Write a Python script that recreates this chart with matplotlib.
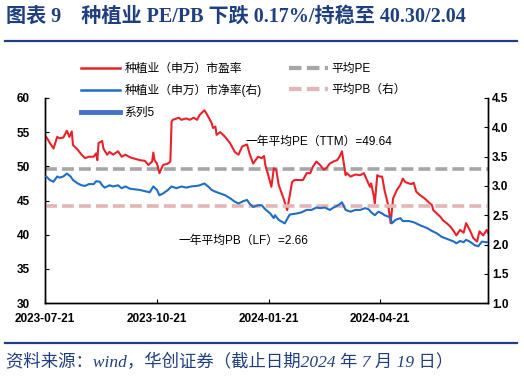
import matplotlib
matplotlib.use("Agg")
import matplotlib.pyplot as plt
import matplotlib.dates as mdates
from matplotlib.lines import Line2D
import pandas as pd

plt.rcParams['font.family'] = ['Liberation Sans', 'Noto Sans CJK SC', 'DejaVu Sans']

start = pd.Timestamp('2023-07-21')

# PE (TTM), days after 2023-07-21
pe_day = [1, 4, 7, 10, 12, 15, 18, 20, 22, 23, 27, 30, 33, 36, 40, 42, 43, 44, 47, 48,
          51, 53, 56, 60, 63, 66, 70, 78, 82, 85, 88, 89, 90, 92, 94, 97, 101, 103, 104, 105,
          110, 112, 116, 119, 122, 125, 127, 131, 134, 137, 138, 140, 141, 144, 148, 152, 156, 159, 162, 166,
          168, 171, 175, 178, 180, 181, 183, 186, 188, 190, 192, 196, 199, 203, 205, 212, 215, 218, 220, 223,
          226, 229, 231, 234, 237, 240, 242, 244, 247, 248, 251, 255, 259, 262, 264, 267, 268, 270, 271, 273,
          275, 277, 279, 282, 284, 286, 289, 292, 294, 296, 299, 301, 303, 305, 308, 312, 315, 318, 319, 322,
          325, 327, 330, 333, 336, 338, 341, 344, 346, 349, 352, 355, 357, 360, 363, 364]
pe_val = [54.3, 53.4, 52.6, 54.3, 54.1, 54.2, 55.2, 54.3, 55.1, 53.1, 52.4, 51.7, 51.2, 51.4, 51.4, 51.9, 50.9, 53.4, 53.7, 52.6,
          51.7, 52.1, 51.7, 52.2, 51.4, 51.7, 51.3, 50.9, 50.8, 50.2, 50.7, 52.0, 50.9, 50.4, 49.0, 50.2, 50.4, 50.7, 56.5, 56.8,
          57.1, 56.8, 57.0, 56.8, 57.1, 56.8, 57.5, 58.2, 57.3, 56.3, 55.6, 55.8, 54.6, 55.0, 54.3, 53.4, 52.1, 51.7, 52.9, 53.2,
          51.9, 50.4, 51.4, 51.2, 51.5, 50.2, 49.0, 47.0, 49.7, 49.5, 47.3, 45.3, 43.6, 47.7, 48.0, 48.0, 49.0, 49.0, 49.9, 50.7,
          50.2, 49.5, 49.7, 50.4, 50.7, 50.9, 51.4, 52.2, 48.7, 49.0, 48.5, 48.8, 48.7, 49.0, 48.2, 47.0, 47.5, 45.8, 44.6, 48.7,
          48.5, 48.5, 46.5, 44.3, 41.7, 45.3, 46.5, 47.3, 48.2, 47.7, 47.5, 47.4, 47.6, 46.3, 45.8, 45.3, 44.8, 44.3, 43.6, 43.1,
          42.6, 42.1, 41.7, 41.2, 40.5, 39.9, 40.7, 40.3, 41.7, 40.7, 39.5, 39.0, 40.5, 39.9, 40.7, 40.3]

# PB (LF), days after 2023-07-21
pb_day = [1, 4, 7, 10, 12, 15, 18, 21, 23, 27, 30, 33, 36, 40, 42, 45, 47, 49, 53, 56,
          60, 63, 66, 70, 78, 84, 86, 89, 92, 94, 97, 101, 104, 108, 112, 116, 120, 125, 127, 131,
          134, 137, 140, 144, 148, 152, 156, 159, 163, 166, 168, 171, 175, 178, 181, 185, 188, 189, 192, 197,
          201, 207, 211, 215, 219, 223, 226, 230, 234, 237, 241, 244, 247, 251, 255, 259, 263, 266, 268, 271,
          274, 277, 279, 284, 285, 288, 292, 294, 299, 303, 308, 314, 318, 322, 326, 331, 336, 338, 341, 344,
          346, 349, 353, 356, 359, 362, 364]
pb_val = [3.16, 3.10, 3.07, 3.16, 3.14, 3.16, 3.21, 3.16, 3.10, 3.04, 3.01, 3.00, 3.03, 3.03, 3.08, 3.07, 3.01, 2.97, 3.01, 2.99,
          3.01, 2.96, 2.99, 2.95, 2.93, 2.90, 2.89, 2.99, 2.93, 2.84, 2.87, 2.93, 2.99, 2.96, 2.99, 2.97, 2.99, 3.00, 3.01, 3.04,
          2.99, 2.93, 2.90, 2.87, 2.84, 2.79, 2.73, 2.70, 2.74, 2.76, 2.70, 2.64, 2.67, 2.67, 2.60, 2.53, 2.45, 2.50, 2.42, 2.36,
          2.51, 2.53, 2.55, 2.59, 2.59, 2.63, 2.62, 2.63, 2.59, 2.63, 2.67, 2.72, 2.59, 2.56, 2.59, 2.59, 2.62, 2.60, 2.55, 2.50,
          2.56, 2.53, 2.50, 2.46, 2.36, 2.42, 2.45, 2.40, 2.40, 2.38, 2.33, 2.28, 2.23, 2.19, 2.13, 2.09, 2.05, 2.02, 2.06, 2.04,
          2.08, 2.05, 1.99, 1.97, 2.05, 2.04, 2.04]

pe_avg = 49.64
pb_avg = 2.66
end_date = '2024-07-19'
xtick_dates = ['2023-07-21', '2023-10-21', '2024-01-21', '2024-04-21']

pe_dates = [start + pd.Timedelta(days=d) for d in pe_day]
pb_dates = [start + pd.Timedelta(days=d) for d in pb_day]

RED = '#E8222B'
BLUE = '#1F6EC4'
GREY = '#A6A6A6'
PINK = '#E3B5B4'
NAVY = '#1F3F7F'

fig = plt.figure(figsize=(5.24, 3.78), dpi=100)
ax = fig.add_axes([0.0859, 0.198, 0.8454, 0.543])
ax2 = ax.twinx()

ax.axhline(pe_avg, color=GREY, lw=2.6, dashes=(3.3, 1.4), zorder=1)
ax2.axhline(pb_avg, color=PINK, lw=2.6, dashes=(3.3, 1.4), zorder=1)
ax.plot(pe_dates, pe_val, color=RED, lw=1.5, zorder=3)
ax2.plot(pb_dates, pb_val, color=BLUE, lw=1.5, zorder=3)

ax.set_xlim(start, pd.Timestamp(end_date))
ax.set_ylim(30, 60)
ax.set_yticks([30, 35, 40, 45, 50, 55, 60])
ax2.set_ylim(1.0, 4.5)
ax2.set_yticks([1.0, 1.5, 2.0, 2.5, 3.0, 3.5, 4.0, 4.5])
ax2.yaxis.set_major_formatter(plt.FuncFormatter(lambda v, p: f'{v:.1f}'))
ax.set_xticks([pd.Timestamp(d) for d in xtick_dates])
ax.xaxis.set_major_formatter(mdates.DateFormatter('%Y-%m-%d'))

for a in (ax, ax2):
    a.spines['top'].set_visible(False)
    for s in a.spines.values():
        s.set_linewidth(1.0)
    a.tick_params(direction='in', length=3, width=0.8, labelsize=8.5)
    for lab in a.get_xticklabels() + a.get_yticklabels():
        lab.set_fontweight('bold')
ax.tick_params(axis='x', pad=7)
ax.tick_params(axis='y', pad=11)
ax2.tick_params(axis='y', pad=3)

ax.text(pd.Timestamp('2024-01-02'), 53.6, '一年平均PE（TTM）=49.64', fontsize=8.5,
        va='center', ha='left')
ax.text(pd.Timestamp('2023-11-08'), 39.1, '一年平均PB（LF）=2.66', fontsize=8.5,
        va='center', ha='left')

handles = [
    Line2D([], [], color=RED, lw=1.8),
    Line2D([], [], color=BLUE, lw=1.8),
    Line2D([], [], color='#4472C4', lw=3.5),
    Line2D([], [], color=GREY, lw=3, dashes=(3, 1.3)),
    Line2D([], [], color=PINK, lw=3, dashes=(3, 1.3)),
]
labels = ['种植业（申万）市盈率', '种植业（申万）市净率(右)', '系列5', '平均PE', '平均PB（右）']
fig.legend(handles, labels, ncol=2, loc='upper left', bbox_to_anchor=(0.155, 0.833),
           frameon=False, fontsize=8.5, handlelength=3.3, handletextpad=0.35,
           columnspacing=2.3, labelspacing=0.78, borderpad=0, borderaxespad=0)

fig.text(0.012, 0.955, '图表 9    种植业 PE/PB 下跌 0.17%/持稳至 40.30/2.04',
         family=['Liberation Serif', 'Noto Sans CJK SC'], fontweight='bold',
         fontsize=14.5, color=NAVY, va='center', ha='left')
fig.add_artist(Line2D([0.01, 0.987], [0.892, 0.892], color=NAVY, lw=1.6))
fig.add_artist(Line2D([0.01, 0.987], [0.093, 0.093], color=NAVY, lw=1.6))
fig.text(0.012, 0.042, '资料来源：wind，华创证券（截止日期2024 年 7 月 19 日）',
         family=['Liberation Serif', 'Noto Sans CJK SC'], style='italic',
         fontsize=12.5, color=NAVY, va='center', ha='left')

fig.savefig('out.png', dpi=100)
